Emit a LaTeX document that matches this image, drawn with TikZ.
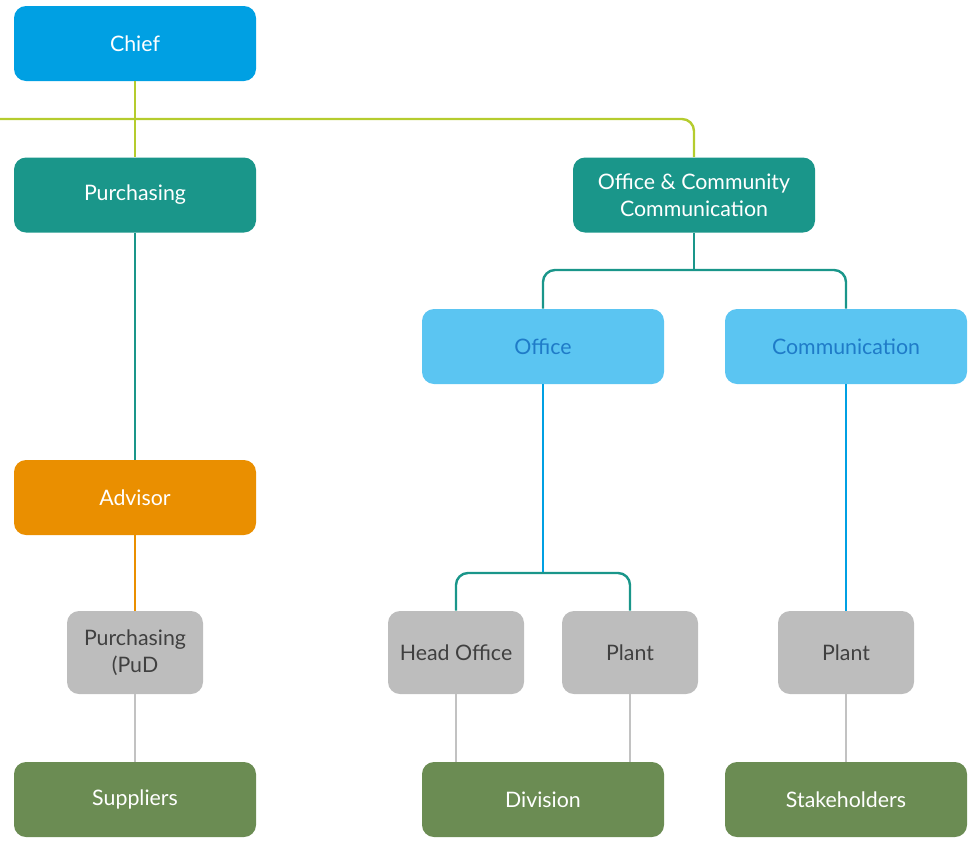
\documentclass[tikz,border=0pt]{standalone}
\usepackage{fontspec}
\setmainfont{Lato}
\usetikzlibrary{positioning}

\definecolor{chiefblue}{HTML}{00A0E3}
\definecolor{limeline}{HTML}{B5CC2E}
\definecolor{tealbox}{HTML}{1A968A}
\definecolor{skybox}{HTML}{5BC5F2}
\definecolor{skytext}{HTML}{1F7BC8}
\definecolor{orangebox}{HTML}{EA8F00}
\definecolor{greybox}{HTML}{BDBDBD}
\definecolor{greytext}{HTML}{404040}
\definecolor{greyline}{HTML}{C2C2C2}
\definecolor{greenbox}{HTML}{6B8C53}

\tikzset{
    box/.style={rounded corners=9pt, minimum width=181.5pt, minimum height=56.25pt,
        align=center, text=white, font=\fontsize{16}{20}\selectfont, inner sep=0pt},
    smallbox/.style={box, minimum width=102pt, minimum height=62.25pt,
        fill=greybox, text=greytext},
    link/.style={line width=1.8pt}
}

\begin{document}
\begin{tikzpicture}[x=0.75pt, y=-0.75pt]
        \useasboundingbox (0, 0) rectangle (971, 843);

        \node[box, fill=chiefblue] (chief) at (135, 43.5) {Chief};
        \node[box, fill=tealbox] (purch) at (135, 195) {Purchasing};
        \node[box, fill=tealbox] (occ) at (694, 195) {Office \& Community\\Communication};

        \node[box, fill=skybox, text=skytext] (office) at (543, 346.5) {Office};
        \node[box, fill=skybox, text=skytext] (comm) at (846, 346.5) {Communication};

        \node[box, fill=orangebox] (advisor) at (135, 497.5) {Advisor};

        \node[smallbox] (pud) at (135, 652.5) {Purchasing\\(PuD};
        \node[smallbox] (head) at (456, 652.5) {Head Office};
        \node[smallbox] (plant) at (630, 652.5) {Plant};
        \node[smallbox] (plantr) at (846, 652.5) {Plant};

        \node[box, fill=greenbox] (supp) at (135, 799.5) {Suppliers};
        \node[box, fill=greenbox] (div) at (543, 799.5) {Division};
        \node[box, fill=greenbox] (stake) at (846, 799.5) {Stakeholders};

        \coordinate (edge) at (0, 119);
        \coordinate (occsplit) at (694, 270);
        \coordinate (offsplit) at (543, 573);

        \draw[link, limeline] (chief) -- (purch);
        \draw[link, limeline, rounded corners=9pt] (edge) -| (occ.north);

        \draw[link, tealbox] (purch) -- (advisor);
        \draw[link, orangebox] (advisor) -- (pud);
        \draw[link, greyline] (pud) -- (supp);

        \draw[link, tealbox] (occ) -- (occsplit);
        \draw[link, tealbox, rounded corners=9pt] (office.north) |- (occsplit) -| (comm.north);

        \draw[link, chiefblue] (office) -- (offsplit);
        \draw[link, tealbox, rounded corners=9pt] (head.north) |- (offsplit) -| (plant.north);
        \draw[link, chiefblue] (comm) -- (plantr);

        \draw[link, greyline] (head.south) -- (head.south |- div.north);
        \draw[link, greyline] (plant.south) -- (plant.south |- div.north);
        \draw[link, greyline] (plantr) -- (stake);

    \end{tikzpicture}
\end{document}
